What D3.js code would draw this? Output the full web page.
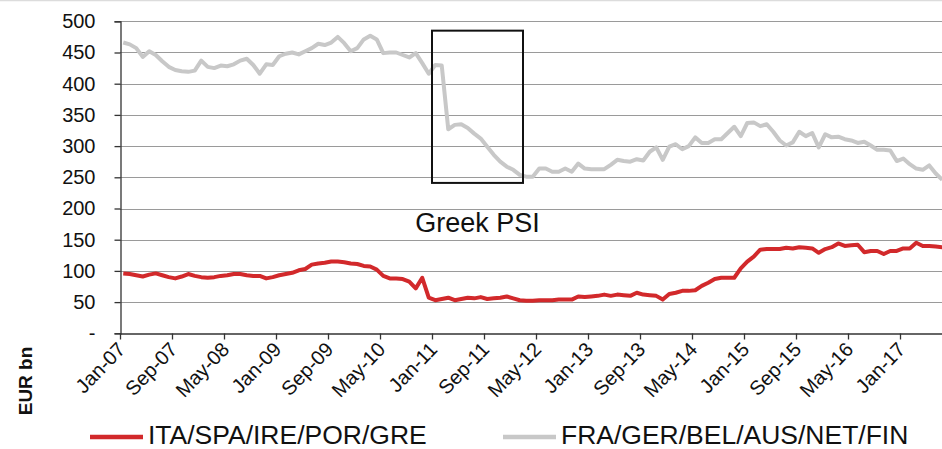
<!DOCTYPE html>
<html>
<head>
<meta charset="utf-8">
<script src="https://cdn.jsdelivr.net/npm/d3@7"></script>
<style>
  body { margin: 0; background: #fff; }
  svg { display: block; font-family: "Liberation Sans", Arial, sans-serif; }
</style>
</head>
<body>
<svg id="chart" width="942" height="449"></svg>
<script>
// monthly, Jan-07 .. Jul-17
var startYear = 2007;
var periph = [96,95,93,91,94,96,93,90,88,91,95,92,90,89,90,92,93,95,95,93,92,92,88,90,
  93,95,97,101,103,110,112,113,115,115,114,112,111,108,107,102,92,88,88,87,83,72,89,57,
  53,55,57,53,55,57,56,58,55,56,57,59,56,53,52,52,53,53,53,54,54,54,59,58,
  59,60,62,60,62,61,60,65,62,61,60,54,63,65,68,68,69,76,81,87,89,89,89,104,
  115,123,134,135,135,135,137,136,138,137,136,129,135,138,144,140,141,142,130,132,
  132,127,132,132,136,136,145,140,140,139,138];
var core = [466,463,457,443,452,446,436,427,422,420,419,421,437,427,425,429,428,431,437,440,430,416,431,430,
  444,448,450,447,452,457,464,462,466,475,465,452,457,471,477,471,449,450,450,446,442,449,433,416,
  430,429,327,334,335,329,320,312,299,286,275,267,262,254,251,251,264,264,259,259,264,259,272,264,
  263,263,263,270,278,276,275,279,277,291,298,278,299,303,295,300,314,305,305,311,311,321,331,316,
  337,338,332,335,323,309,301,306,323,316,321,298,319,314,315,311,309,305,307,301,294,294,293,276,
  280,271,264,262,269,256,246];
var seriesNames = ["ITA/SPA/IRE/POR/GRE", "FRA/GER/BEL/AUS/NET/FIN"];
var seriesColors = ["#d2292b", "#c8c8c8"];
var yTicks = [0,50,100,150,200,250,300,350,400,450,500];
var tickMonths = [0,8,16,24,32,40,48,56,64,72,80,88,96,104,112,120];
var monthNames = ["Jan","Feb","Mar","Apr","May","Jun","Jul","Aug","Sep","Oct","Nov","Dec"];
// annotation box: months 48..62, values 241..485
var boxMonths = [48, 62];
var boxValues = [241, 485];
var boxLabel = "Greek PSI";
var boxLabelValue = 163;

var svg = d3.select("#chart");
var x = d3.scaleLinear().domain([0, 127]).range([120, 945.5]);
var y = d3.scaleLinear().domain([0, 500]).range([333.3, 21.3]);

function monthLabel(m) {
  var yr = startYear + Math.floor(m / 12);
  return monthNames[m % 12] + "-" + String(yr).slice(2);
}

// faint top border
svg.append("line").attr("x1", 0).attr("x2", 942).attr("y1", 0.5).attr("y2", 0.5)
  .attr("stroke", "#dcdcdc").attr("stroke-width", 1.5);

// gridlines
svg.append("g").selectAll("line").data(yTicks.filter(function(d){ return d > 0; }))
  .enter().append("line")
  .attr("x1", 120).attr("x2", 942)
  .attr("y1", function(d){ return Math.round(y(d)) + 0.5; })
  .attr("y2", function(d){ return Math.round(y(d)) + 0.5; })
  .attr("stroke", "#9a9a9a").attr("stroke-width", 1.2);

// y axis
var yAxis = svg.append("g").attr("transform", "translate(120.5,0)")
  .call(d3.axisLeft(y).tickValues(yTicks).tickSize(6).tickPadding(19)
    .tickFormat(function(d){ return d === 0 ? "-" : d; }));
yAxis.select(".domain").attr("stroke", "#333").attr("stroke-width", 1.3);
yAxis.selectAll(".tick line").attr("stroke", "#333").attr("stroke-width", 1.3);
yAxis.selectAll("text").attr("font-size", 20).attr("fill", "#111")
  .attr("font-family", "Liberation Sans, Arial, sans-serif");

// x axis
var xAxis = svg.append("g").attr("transform", "translate(0,333.5)")
  .call(d3.axisBottom(x).tickValues(tickMonths).tickSize(6).tickSizeOuter(0)
    .tickFormat(monthLabel));
xAxis.select(".domain").attr("stroke", "#333").attr("stroke-width", 1.3);
xAxis.selectAll(".tick line").attr("stroke", "#333").attr("stroke-width", 1.3);
xAxis.selectAll("text")
  .attr("font-size", 20).attr("fill", "#111")
  .attr("font-family", "Liberation Sans, Arial, sans-serif")
  .attr("text-anchor", "end")
  .attr("dy", 0).attr("y", 0)
  .attr("transform", "translate(6,17) rotate(-46)");

// y axis title
svg.append("text").attr("transform", "translate(32,381) rotate(-90)")
  .attr("text-anchor", "middle").attr("font-weight", "bold").attr("font-size", 19)
  .attr("fill", "#111").text("EUR bn");

// lines
var line = d3.line()
  .x(function(d, i){ return x(i + 0.5); })
  .y(function(d){ return y(d); });

[periph, core].forEach(function(s, k) {
  svg.append("path").datum(s)
    .attr("fill", "none")
    .attr("stroke", seriesColors[k])
    .attr("stroke-width", 4)
    .attr("stroke-linejoin", "round")
    .attr("d", line);
});

// annotation
svg.append("rect")
  .attr("x", x(boxMonths[0])).attr("y", y(boxValues[1]))
  .attr("width", x(boxMonths[1]) - x(boxMonths[0]))
  .attr("height", y(boxValues[0]) - y(boxValues[1]))
  .attr("fill", "none").attr("stroke", "#111").attr("stroke-width", 2);
svg.append("text")
  .attr("x", x((boxMonths[0] + boxMonths[1]) / 2)).attr("y", y(boxLabelValue))
  .attr("text-anchor", "middle").attr("font-size", 27).attr("fill", "#111")
  .text(boxLabel);

// legend
var legendX = [90, 503];
var leg = svg.append("g");
seriesNames.forEach(function(n, k) {
  leg.append("line").attr("x1", legendX[k]).attr("x2", legendX[k] + 53)
    .attr("y1", 437).attr("y2", 437)
    .attr("stroke", seriesColors[k]).attr("stroke-width", 4.5);
  leg.append("text")
    .attr("transform", "translate(" + (legendX[k] + 58) + ",444) scale(1.06,1)")
    .attr("font-size", 25).attr("fill", "#111").text(n);
});
</script>
</body>
</html>
